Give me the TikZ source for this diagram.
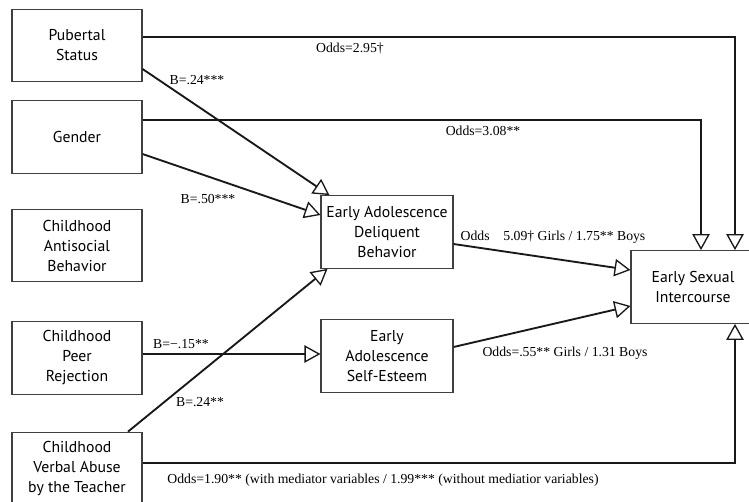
\documentclass[tikz,border=0pt]{standalone}
\usepackage{fontspec}
\setmainfont{Liberation Serif}
\newfontfamily\boxfont{PT Sans}
\usetikzlibrary{arrows.meta}
\tikzset{
  box/.style={draw=black!75, line width=0.8pt, fill=white, align=center,
    font=\boxfont\fontsize{11.8}{15}\selectfont, inner sep=0pt,
    minimum width=97.5pt, minimum height=54.5pt},
  conn/.style={line width=1.4pt, draw=black!90,
    -{Triangle[open,length=12pt,width=13pt,line width=1pt]}},
  lbl/.style={font=\fontsize{10.3}{12}\selectfont, inner sep=0pt}
}
\begin{document}
\begin{tikzpicture}[x=0.75pt,y=-0.75pt]
\clip (0,0) rectangle (749,501);
\fill[white] (0,0) rectangle (749,501);
% left boxes
\node[box] (pub) at (77,45.5) {Pubertal\\Status};
\node[box] (gen) at (77,137) {Gender};
\node[box] (anti) at (77,245.5) {Childhood\\Antisocial\\Behavior};
\node[box] (peer) at (77,358) {Childhood\\Peer\\Rejection};
\node[box] (verb) at (77,468.5) {Childhood\\Verbal Abuse\\by the Teacher};
% middle boxes
\node[box, minimum width=99pt] (del) at (387,232) {Early Adolescence\\Deliquent\\Behavior};
\node[box, minimum width=99pt] (se) at (387,356) {Early\\Adolescence\\Self-Esteem};
% right box
\node[box, minimum width=93pt] (esi) at (693,287) {Early Sexual\\Intercourse};
% connectors
\draw[conn] ([yshift=6.4pt]pub.east) -| ([xshift=31.5pt]esi.north);
\draw[conn] ([yshift=12.75pt]gen.east) -| ([xshift=6pt]esi.north);
\draw[conn] ([yshift=-17.6pt]pub.east) -- ([xshift=6.75pt]del.north west);
\draw[conn] ([yshift=-12.75pt]gen.east) -- ([yshift=12.75pt]del.west);
\draw[conn] ([xshift=38.25pt]verb.north) -- ([xshift=5.25pt]del.south west);
\draw[conn] ([yshift=3pt]peer.east) -- ([yshift=1.5pt]se.west);
\draw[conn] ([yshift=-9pt]del.east) -- ([yshift=12.75pt]esi.west);
\draw[conn] ([yshift=6.75pt]se.east) -- ([yshift=-14.25pt]esi.west);
\draw[conn] ([yshift=4.1pt]verb.east) -| ([xshift=31.5pt]esi.south);
% labels
\node[lbl] (l1) at (350,49) {Odds=2.95†};
\node[lbl] (l2) at (197,80) {B=.24***};
\node[lbl] (l3) at (483,131) {Odds=3.08**};
\node[lbl] (l4) at (208,199) {B=.50***};
\node[lbl] (l5) at (553,237) {Odds\quad 5.09† Girls / 1.75** Boys};
\node[lbl] (l6) at (181,344) {B=−.15**};
\node[lbl] (l7) at (565,353) {Odds=.55** Girls / 1.31 Boys};
\node[lbl] (l8) at (200,402) {B=.24**};
\node[lbl] (l9) at (383,480) {Odds=1.90** (with mediator variables / 1.99*** (without mediatior variables)};
\end{tikzpicture}
\end{document}
